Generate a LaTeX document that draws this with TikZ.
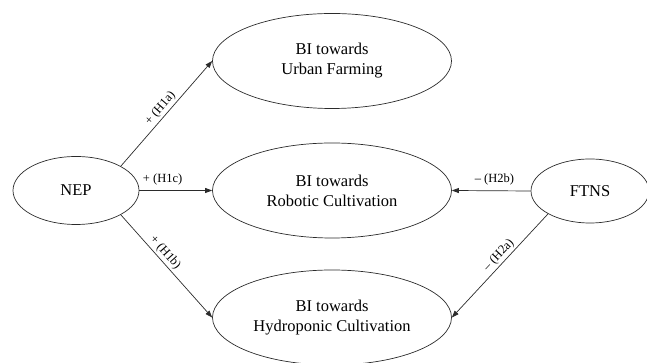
\documentclass[tikz,border=0pt]{standalone}
\usepackage{fontspec}
\setmainfont{Liberation Serif}
\usetikzlibrary{arrows.meta,shapes.geometric}
\definecolor{pathink}{HTML}{2B2B2B}

\begin{document}
\begin{tikzpicture}[x=1pt,y=1pt,
  construct/.style={ellipse,draw=pathink,line width=.7pt,inner sep=0pt,
    align=center,font=\fontsize{16.5}{20}\selectfont},
  outcome/.style={construct,minimum width=239pt,minimum height=95pt},
  effect/.style={draw=pathink,line width=.7pt,-{Triangle[length=7pt,width=5pt]}},
  hyp/.style={font=\fontsize{12.5}{14}\selectfont,text=black,inner sep=2pt}
]
  \useasboundingbox (0,0) rectangle (647,363);

  \node[construct,minimum width=126pt,minimum height=68pt] (nep) at (76,172.5) {NEP};
  \node[construct,minimum width=118pt,minimum height=64pt] (ftns) at (590,172) {FTNS};
  \node[outcome] (urban) at (332,302) {BI towards\\Urban Farming};
  \node[outcome] (robotic) at (332,172.5) {BI towards\\Robotic Cultivation};
  \node[outcome] (hydro) at (332,45.5) {BI towards\\Hydroponic Cultivation};

  \draw[effect] (nep.north east) -- node[hyp,sloped,above,pos=.5] {+ (H1a)} (urban.west);
  \draw[effect] (nep.east) -- node[hyp,above=3pt,pos=.32] {+ (H1c)} (robotic.west);
  \draw[effect] (nep.south east) -- node[hyp,sloped,above,pos=.42] {+ (H1b)} (hydro.west);
  \draw[effect] (ftns.west) -- node[hyp,above=3pt,pos=.46] {\textendash{} (H2b)} (robotic.east);
  \draw[effect] (ftns.south west) -- node[hyp,sloped,above,pos=.45] {\textendash{} (H2a)} (hydro.east);
\end{tikzpicture}
\end{document}
